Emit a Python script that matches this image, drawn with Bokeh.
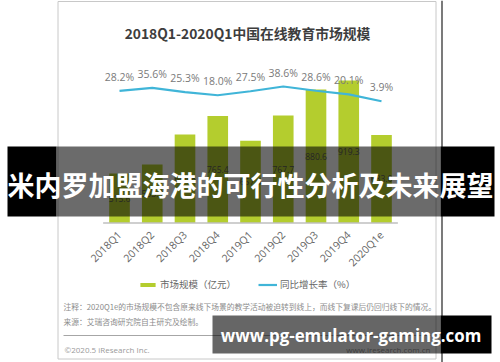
import math
from bokeh.plotting import figure
from bokeh.models import Range1d, ColumnDataSource, Legend, LegendItem
from bokeh.core.properties import value
from bokeh.embed import file_html
from bokeh.resources import INLINE

# ---------------- data ----------------
CATEGORIES = ["2018Q1", "2018Q2", "2018Q3", "2018Q4", "2019Q1",
              "2019Q2", "2019Q3", "2019Q4", "2020Q1e"]
MARKET_SIZE = [515.6, 553.9, 684.8, 765.4, 657.4, 767.7, 880.6, 919.3, 683.0]   # 亿元
YOY_GROWTH = [28.2, 35.6, 25.3, 18.0, 27.5, 38.6, 28.6, 20.1, 3.9]             # %
SIZE_LABELS = ["515.6", "553.9", "684.8", "765.4", "657.4", "767.7", "880.6", "919.3", "683.0"]
GROWTH_LABELS = ["28.2%", "35.6%", "25.3%", "18.0%", "27.5%", "38.6%", "28.6%", "20.1%", "3.9%"]

TITLE = "2018Q1-2020Q1中国在线教育市场规模"
LEGEND_LABELS = ["市场规模（亿元）", "同比增长率（%）"]
NOTE = "注释：2020Q1e的市场规模不包含原来线下场景的教学活动被迫转到线上，而线下复课后仍回归线下的情况。"
SOURCE = "来源：艾瑞咨询研究院自主研究及绘制。"
COPYRIGHT = "©2020.5 iResearch Inc."
SITE = "www.iresearch.com.cn"
BANNER = "米内罗加盟海港的可行性分析及未来展望"
WATERMARK = "www.pg-emulator-gaming.com"

# ---------------- layout / style ----------------
W, H = 500, 362
BAR_AXIS_MIN = 300          # value at the bar baseline
BAR_PX_PER_UNIT = 0.23
BAR_BASE_FROM_BOTTOM = 139.5
PCT_PX_PER_UNIT = 0.424
PCT_ZERO_FROM_BOTTOM = 259.6
SLOT_PX = 32.75             # pixels per category slot
FIRST_CENTER_PX = 119

GREEN = "#b4cd2e"
BLUE = "#40b5d8"
CJK = value("Noto Sans CJK SC")
LATIN = value("Open Sans")

n = len(CATEGORIES)
x_start = -FIRST_CENTER_PX / SLOT_PX
x_end = x_start + W / SLOT_PX
y_start = BAR_AXIS_MIN - BAR_BASE_FROM_BOTTOM / BAR_PX_PER_UNIT
y_end = y_start + H / BAR_PX_PER_UNIT
pct_start = -PCT_ZERO_FROM_BOTTOM / PCT_PX_PER_UNIT
pct_end = pct_start + H / PCT_PX_PER_UNIT

p = figure(width=W, height=H,
           x_range=Range1d(x_start, x_end),
           y_range=Range1d(y_start, y_end),
           output_backend="svg", toolbar_location=None,
           x_axis_location=None, y_axis_location=None,
           min_border=0, outline_line_color=None, title=None,
           background_fill_color="white", border_fill_color="white")
p.xgrid.grid_line_color = None
p.ygrid.grid_line_color = None
p.extra_y_ranges = {"pct": Range1d(pct_start, pct_end), "py": Range1d(H, 0)}
p.extra_x_ranges = {"px": Range1d(0, W)}

src = ColumnDataSource(dict(
    idx=list(range(n)), cat=CATEGORIES, size=MARKET_SIZE,
    mid=[(v + BAR_AXIS_MIN) / 2 for v in MARKET_SIZE],
    size_label=SIZE_LABELS, growth=YOY_GROWTH, growth_label=GROWTH_LABELS))

PX = dict(x_range_name="px", y_range_name="py")

# card frame
p.quad(left=[57.5], right=[435.5], top=[1], bottom=[358.5], fill_color=None,
       line_color="#c8c8c8", line_width=1, **PX)
p.segment(x0=[441.5], x1=[441.5], y0=[0], y1=[H], line_color="#333333",
          line_width=1.3, **PX)

# title
p.text(x=[247], y=[32], text=[TITLE], text_font=CJK, text_font_style="bold",
       text_font_size="13.8px", text_color="#3d3d3d", text_align="center",
       text_baseline="middle", **PX)

# bars
bars = p.vbar(x="idx", top="size", bottom=BAR_AXIS_MIN, width=0.63, source=src,
              fill_color=GREEN, line_color=None)
# baseline
p.segment(x0=[-0.5], x1=[n - 0.5], y0=[BAR_AXIS_MIN], y1=[BAR_AXIS_MIN],
          line_color="#bfbfbf", line_width=1.5)
# bar value labels
p.text(x="idx", y="mid", text="size_label", source=src, text_font=LATIN,
       text_font_size="8.5px", text_color="#595959", text_align="center",
       text_baseline="middle")
# x tick labels
p.text(x="idx", y=BAR_AXIS_MIN, text="cat", source=src, angle=math.pi / 4,
       text_font=LATIN, text_font_size="10.5px", text_color="#666666",
       text_align="right", text_baseline="middle", x_offset=0, y_offset=10)

# growth line
line = p.line(x="idx", y="growth", source=src, y_range_name="pct",
              line_color=BLUE, line_width=2.2)
p.text(x="idx", y="growth", text="growth_label", source=src, y_range_name="pct",
       y_offset=-14, text_font=LATIN, text_font_size="10.5px",
       text_color="#7a7a7a", text_align="center", text_baseline="middle")

# legend
legend = Legend(items=[LegendItem(label=LEGEND_LABELS[0], renderers=[bars]),
                       LegendItem(label=LEGEND_LABELS[1], renderers=[line])],
                orientation="horizontal", location=(138, 71),
                glyph_width=19, glyph_height=5, label_standoff=3, spacing=22,
                padding=0, margin=0, border_line_color=None,
                background_fill_alpha=0, label_text_font="Noto Sans CJK SC",
                label_text_font_size="9.5px", label_text_color="#666666",
                label_height=12)
p.add_layout(legend)

# notes / footer
p.text(x=[63, 63], y=[306, 321], text=[NOTE, SOURCE], text_font=CJK,
       text_font_size="7.75px", text_color="#8c8c8c", text_align="left",
       text_baseline="middle", **PX)
p.segment(x0=[63], x1=[430], y0=[335], y1=[335], line_color="#a6a6a6",
          line_width=1, **PX)
p.text(x=[64], y=[349], text=[COPYRIGHT], text_font=LATIN, text_font_size="8px",
       text_color="#9a9a9a", text_align="left", text_baseline="middle", **PX)
p.text(x=[430], y=[349], text=[SITE], text_font=LATIN, text_font_size="8px",
       text_color="#9a9a9a", text_align="right", text_baseline="middle", **PX)

# banner overlay
p.quad(left=[7, 56, 440], right=[56, 440, 494], top=[146, 146, 146],
       bottom=[216, 216, 216], fill_color="black", fill_alpha=[1, 0.58, 1],
       line_color=None, **PX)
p.text(x=[250], y=[184], text=[BANNER], text_font=CJK, text_font_style="bold",
       text_font_size="27px", text_color="white", text_align="center",
       text_baseline="middle", **PX)

# watermark overlay
p.quad(left=[212, 440], right=[440, 491], top=[315, 315], bottom=[353, 353],
       fill_color="black", fill_alpha=[0.6, 1], line_color=None, **PX)
p.text(x=[350.5], y=[335], text=[WATERMARK], text_font=LATIN,
       text_font_style="bold", text_font_size="16.9px", text_color="white",
       text_align="center", text_baseline="middle", **PX)

open("out.html", "w").write(file_html(p, INLINE))
